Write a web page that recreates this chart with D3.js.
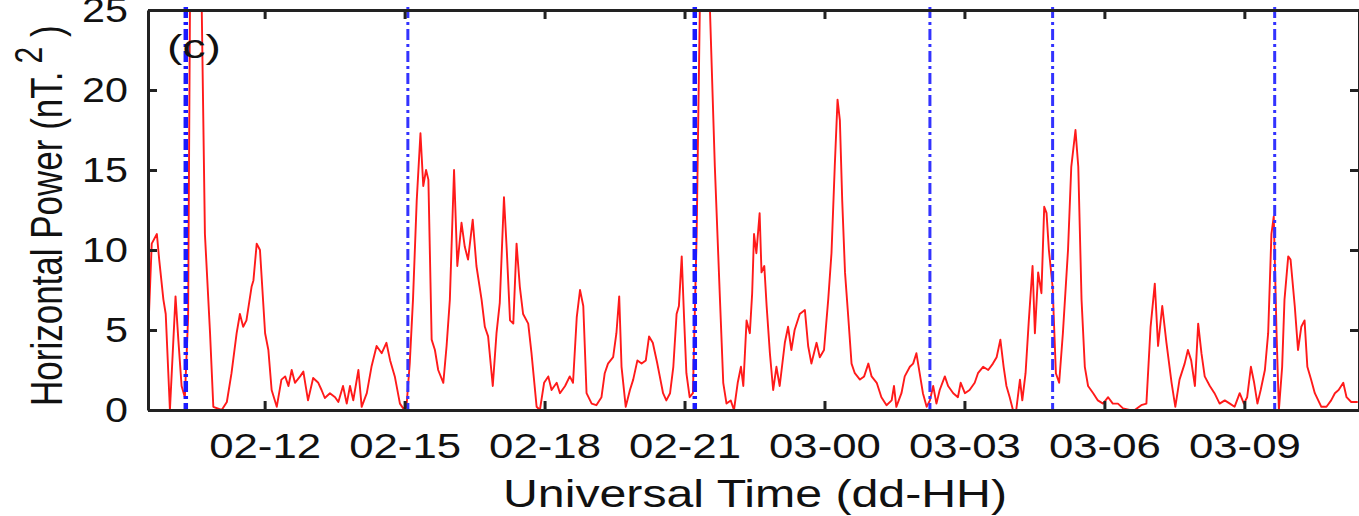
<!DOCTYPE html>
<html>
<head>
<meta charset="utf-8">
<script src="https://cdn.jsdelivr.net/npm/d3@7"></script>
<style>
  html, body { margin: 0; padding: 0; background: #fff; }
  svg { display: block; }
  text { font-family: "Liberation Sans", Arial, Helvetica, sans-serif; fill: #111; }
</style>
</head>
<body>
<svg id="chart" width="1359" height="516"></svg>
<script>
// ---- data (hours since day 02 00:00 UT, horizontal power nT^2) ----
const hours = [9.51,9.58,9.69,9.74,9.83,9.88,9.97,10.09,10.15,10.22,10.29,10.36,10.40,10.53,10.65,10.72,10.83,10.90,11.08,11.19,11.29,11.40,11.47,11.54,11.61,11.72,11.76,11.83,11.90,12.01,12.08,12.15,12.26,12.36,12.44,12.51,12.58,12.65,12.76,12.83,12.93,13.04,13.15,13.22,13.29,13.40,13.51,13.58,13.68,13.76,13.83,13.90,14.01,14.08,14.19,14.29,14.40,14.51,14.61,14.69,14.79,14.90,14.97,
15.04,15.11,15.18,15.26,15.34,15.40,15.46,15.51,15.58,15.65,15.72,15.83,15.90,15.97,16.06,16.13,16.22,16.29,16.36,16.46,16.54,16.65,16.72,16.79,16.89,16.97,17.04,17.13,17.19,17.26,17.33,17.40,17.47,17.54,17.65,17.72,17.83,17.90,17.99,18.08,18.15,18.26,18.33,18.44,18.54,18.61,18.69,18.76,18.83,18.90,19.01,19.11,19.22,19.29,19.36,19.47,19.54,19.60,19.65,19.74,19.83,19.90,19.99,20.08,20.17,20.24,20.32,20.41,20.47,20.54,20.61,20.69,20.76,20.83,20.88,20.94,20.99,21.04,21.11,21.18,21.26,21.33,21.44,21.54,21.65,21.76,21.83,21.90,21.99,22.06,22.14,22.21,22.26,22.33,22.40,22.45,22.49,22.54,22.61,22.65,22.71,22.76,22.83,22.90,22.97,23.04,23.15,23.22,23.29,23.36,23.47,23.58,23.65,23.72,23.83,23.90,23.99,
24.08,24.15,24.22,24.28,24.33,24.38,24.44,24.51,24.58,24.65,24.76,24.85,24.94,25.01,25.12,25.22,25.33,25.44,25.49,25.54,25.65,25.72,25.83,25.90,25.97,26.04,26.11,26.19,26.26,26.33,26.40,26.47,26.58,26.65,26.76,26.86,26.92,27.01,27.11,27.22,27.29,27.40,27.51,27.61,27.69,27.77,27.84,27.90,27.97,28.04,28.11,28.19,28.24,28.31,28.38,28.46,28.51,28.58,28.65,28.71,28.76,28.81,28.89,28.96,29.03,29.11,29.22,29.29,29.38,29.44,29.51,29.58,29.65,29.76,29.86,29.97,30.08,30.18,30.29,30.40,30.54,30.65,30.79,30.90,30.99,31.08,31.15,31.24,31.33,31.44,31.52,31.61,31.72,31.79,31.86,31.94,32.01,32.08,32.15,32.26,32.36,32.47,32.58,32.69,32.79,32.90,32.99,33.06,33.14,33.21,33.28,33.35,33.44,33.51,33.58,33.63,33.69,33.74,33.81,33.86,33.94,33.99,34.08,34.15,34.22,34.29,34.35,34.43,34.51,34.65,34.76,34.86,34.94,35.02,35.12,35.19,35.29,35.43];

const power = [5.2,10.4,11.0,9.4,6.9,6.0,0,7.1,4.4,1.5,0.8,5.8,25.5,33,25.5,11,4.8,0.2,0,0.5,2.3,4.8,6.0,5.2,5.6,7.7,8.1,10.4,10.0,4.8,3.75,1.25,0.2,1.9,2.1,1.5,2.5,1.7,2.1,2.4,0.6,2.0,1.7,1.25,0.75,1.05,0.8,0.5,1.5,0.4,1.5,0.6,2.5,0.2,1.05,2.7,4.0,3.55,4.2,3.1,2.1,0.4,0.1,
0.2,2.9,6.9,13.1,17.3,14.0,15.0,14.4,4.4,3.75,2.5,1.7,4.0,6.9,15.0,9.0,11.7,10.2,9.4,11.9,9.0,6.9,5.2,4.6,1.5,4.8,6.7,13.3,10.0,5.6,5.4,10.4,7.7,6.0,5.4,3.55,0.2,0,1.7,2.1,1.25,1.7,1.05,1.5,2.1,1.7,5.8,7.5,6.5,1.05,0.4,0.3,0.8,2.3,2.9,3.3,4.8,7.1,2.7,0.2,1.25,1.9,3.1,2.9,3.1,4.6,4.2,3.0,2.1,1.05,0.6,1.05,2.7,6.0,6.5,9.6,5.8,2.3,0.8,1.05,11,25.5,33,25.5,15.2,6.9,1.7,0.4,0.6,0,1.7,2.7,1.5,5.6,4.8,7.3,11,9.8,12.3,8.6,9.0,6.5,3.55,1.25,2.7,1.5,4.2,5.2,3.75,5.0,6.0,6.25,4.0,2.9,4.2,3.3,3.75,
6.9,9.8,15.2,19.4,18.1,13.1,8.6,5.8,2.9,2.3,1.9,2.1,2.9,2.1,1.7,0.8,0.3,0.6,1.5,0.2,1.05,2.1,2.7,2.9,3.55,2.3,1.05,0.2,0.6,1.5,0.4,1.25,2.1,1.5,1.05,0.8,1.7,1.05,1.25,1.7,2.3,2.7,2.5,2.9,3.3,4.4,2.7,1.5,0.8,0,0,1.9,0.6,2.3,5.6,9.0,4.8,8.6,7.3,12.7,12.3,10.0,7.7,2.3,1.7,4.8,10.0,15.2,17.5,15.2,6.9,2.7,1.5,1.05,0.6,0.4,0.8,0.4,0.4,0.1,0,0,0.3,0.4,5.2,7.9,4.0,6.5,4.2,1.7,0.2,1.9,2.9,3.75,3.1,1.5,5.4,3.55,2.1,1.5,1.05,0.4,0.6,0.4,0.2,1.05,0.4,0.8,2.7,1.7,0.4,1.25,2.5,4.8,11,12.1,4.8,0,2.7,6.9,9.6,9.4,6.5,3.75,5.2,5.6,2.7,1.9,1.05,0.2,0.2,0.6,1.05,1.25,1.7,0.8,0.5,0.5];

// event markers (hours since day 02 00:00 UT)
const eventHours = [10.31, 15.07, 21.22, 26.26, 28.89, 33.65];

// axis ticks
const xTickHours = [12, 15, 18, 21, 24, 27, 30, 33];
const xTickLabels = ["02-12", "02-15", "02-18", "02-21", "03-00", "03-03", "03-06", "03-09"];
const yTicks = [0, 5, 10, 15, 20, 25];
const xDomain = [9.5, 35.5];
const yDomain = [0, 25];

const panelLabel = "(c)";
const xTitle = "Universal Time (dd-HH)";
const yTitleMain = "Horizontal Power (nT.";
const yTitleSup = "2";
const yTitleEnd = " )";

// ---- layout ----
const svg = d3.select("#chart");
const W = 1359, H = 516;
const m = { left: 148, right: 1361, top: 10, bottom: 410 };

const x = d3.scaleLinear().domain(xDomain).range([m.left, m.right]);
const y = d3.scaleLinear().domain(yDomain).range([m.bottom, m.top]);

svg.append("rect").attr("width", W).attr("height", H).attr("fill", "#fff");

svg.append("defs").append("clipPath").attr("id", "plotclip")
  .append("rect").attr("x", m.left).attr("y", m.top)
  .attr("width", m.right - m.left).attr("height", m.bottom - m.top + 6);

const data = hours.map((h, i) => ({ h, v: power[i] }));

// red data line
svg.append("path")
  .datum(data)
  .attr("clip-path", "url(#plotclip)")
  .attr("fill", "none")
  .attr("stroke", "#ff1a1a")
  .attr("stroke-width", 1.9)
  .attr("stroke-linejoin", "round")
  .attr("d", d3.line().x(d => x(d.h)).y(d => y(d.v)));

// blue dash-dot event markers
svg.append("g").selectAll("line")
  .data(eventHours)
  .join("line")
  .attr("x1", d => x(d)).attr("x2", d => x(d))
  .attr("y1", y(yDomain[1]) - 3).attr("y2", y(0))
  .attr("stroke", (d, i) => (i === 0 || i === 2) ? "#1a1aff" : "#3333ff")
  .attr("stroke-width", (d, i) => (i === 0 || i === 2) ? 4.5 : 3)
  .attr("stroke-dasharray", "11,4,3,4");

// axes
const axisColor = "#222";
function styleAxis(g) {
  g.select(".domain").attr("stroke", axisColor).attr("stroke-width", 3);
  g.selectAll(".tick line").attr("stroke", axisColor).attr("stroke-width", 3);
}

const xAxis = svg.append("g")
  .attr("transform", `translate(0,${m.bottom})`)
  .call(d3.axisBottom(x).tickValues(xTickHours)
        .tickFormat((d, i) => xTickLabels[i])
        .tickSize(-9).tickSizeOuter(0).tickPadding(23));
styleAxis(xAxis);
xAxis.selectAll("text")
  .attr("font-size", 35)
  .attr("fill", "#111")
  .attr("font-family", "Liberation Sans, Arial, sans-serif")
  .attr("transform", "scale(1.25,1)");

const xTop = svg.append("g")
  .attr("transform", `translate(0,${m.top})`)
  .call(d3.axisTop(x).tickValues(xTickHours).tickFormat("")
        .tickSize(-9).tickSizeOuter(0));
styleAxis(xTop);

const yAxis = svg.append("g")
  .attr("transform", `translate(${m.left},0)`)
  .call(d3.axisLeft(y).tickValues(yTicks)
        .tickSize(-9).tickSizeOuter(0).tickPadding(20));
styleAxis(yAxis);
yAxis.selectAll("text")
  .attr("font-size", 35)
  .attr("fill", "#111")
  .attr("font-family", "Liberation Sans, Arial, sans-serif")
  .attr("x", -20 / 1.18)
  .attr("transform", "scale(1.18,1)");

const yRight = svg.append("g")
  .attr("transform", `translate(${m.right - 2},0)`)
  .call(d3.axisRight(y).tickValues(yTicks).tickFormat("")
        .tickSize(-9).tickSizeOuter(0));
styleAxis(yRight);

// panel label
svg.append("text")
  .attr("transform", `translate(${m.left + 19},${m.top + 48}) scale(1.4,1)`)
  .attr("font-size", 33)
  .text(panelLabel);

// x title
svg.append("text")
  .attr("transform", `translate(755,507) scale(1.27,1)`)
  .attr("text-anchor", "middle")
  .attr("font-size", 38)
  .text(xTitle);

// y title (rotated, stretched across screen-x like the source image)
const yt = svg.append("text")
  .attr("transform", `translate(62,406) scale(1.27,1) rotate(-90)`)
  .attr("text-anchor", "start")
  .attr("font-size", 35);
yt.append("tspan").text(yTitleMain);
yt.append("tspan").attr("dy", -16).attr("dx", 8).attr("font-size", 30).text(yTitleSup);
yt.append("tspan").attr("dy", 16).text(yTitleEnd);
</script>
</body>
</html>
